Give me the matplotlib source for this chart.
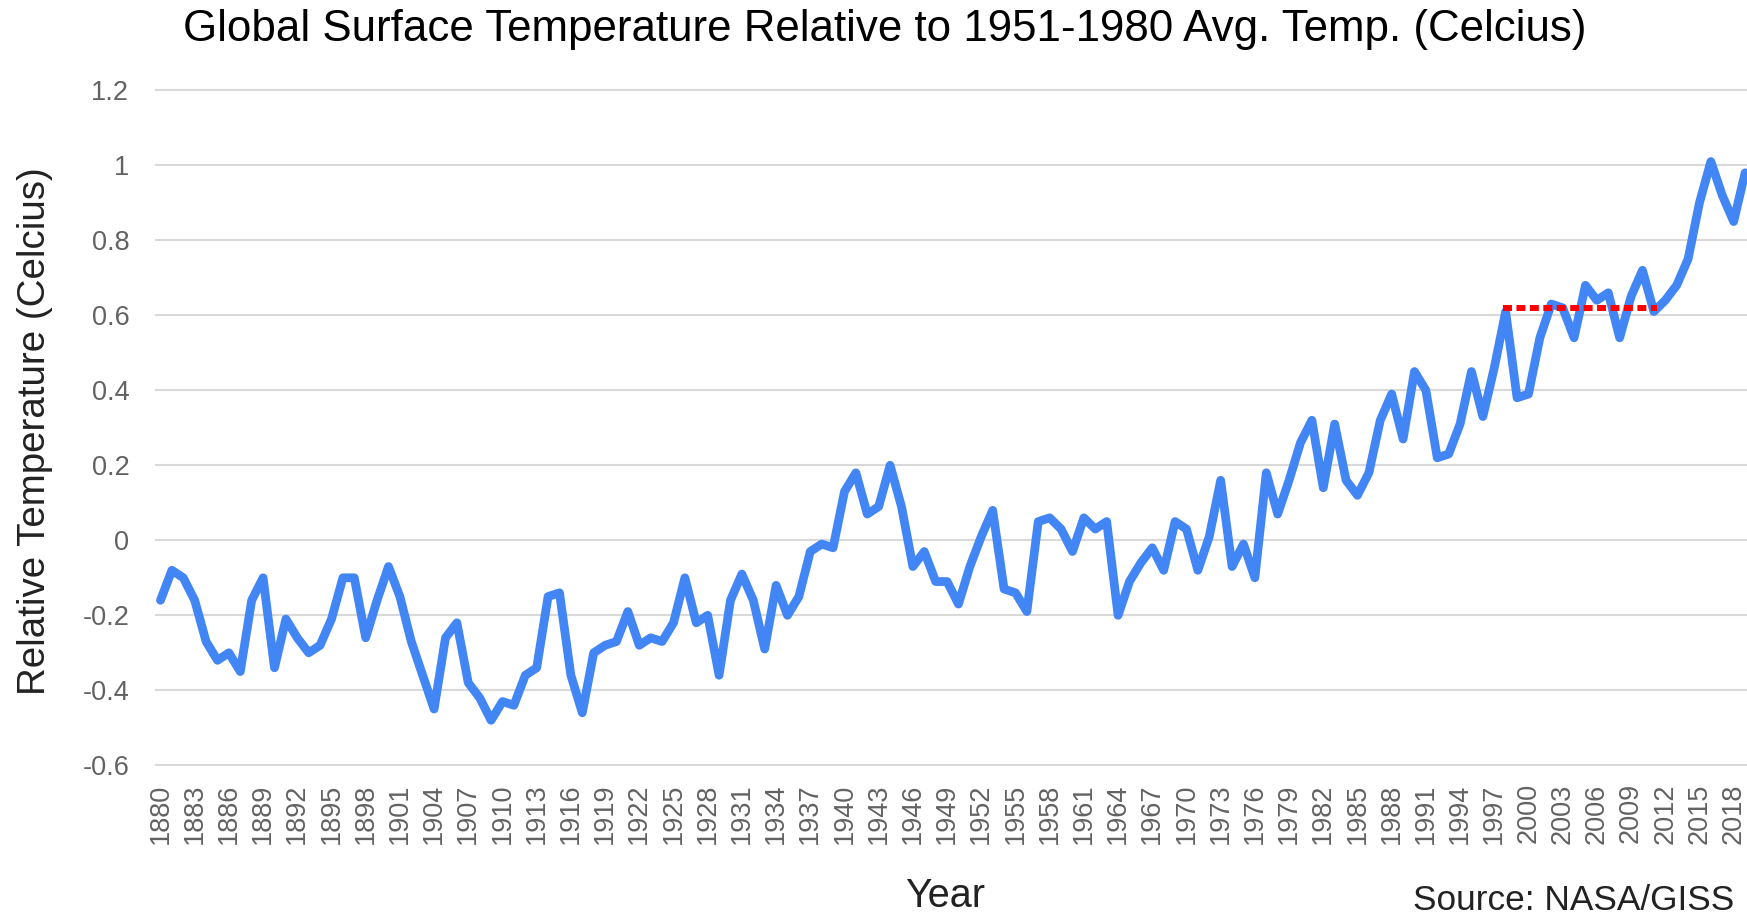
"""Global surface temperature anomaly line chart (NASA/GISS)."""

import matplotlib
matplotlib.use("Agg")
import matplotlib.pyplot as plt

plt.rcParams["font.family"] = ["Liberation Sans", "DejaVu Sans"]

# Annual mean anomaly vs 1951-1980, deg C
years = list(range(1880, 2020))
anomaly = [
    -0.16, -0.08, -0.10, -0.16, -0.27, -0.32, -0.30, -0.35, -0.16, -0.10,
    -0.34, -0.21, -0.26, -0.30, -0.28, -0.21, -0.10, -0.10, -0.26, -0.16,
    -0.07, -0.15, -0.27, -0.36, -0.45, -0.26, -0.22, -0.38, -0.42, -0.48,
    -0.43, -0.44, -0.36, -0.34, -0.15, -0.14, -0.36, -0.46, -0.30, -0.28,
    -0.27, -0.19, -0.28, -0.26, -0.27, -0.22, -0.10, -0.22, -0.20, -0.36,
    -0.16, -0.09, -0.16, -0.29, -0.12, -0.20, -0.15, -0.03, -0.01, -0.02,
    0.13, 0.18, 0.07, 0.09, 0.20, 0.09, -0.07, -0.03, -0.11, -0.11,
    -0.17, -0.07, 0.01, 0.08, -0.13, -0.14, -0.19, 0.05, 0.06, 0.03,
    -0.03, 0.06, 0.03, 0.05, -0.20, -0.11, -0.06, -0.02, -0.08, 0.05,
    0.03, -0.08, 0.01, 0.16, -0.07, -0.01, -0.10, 0.18, 0.07, 0.16,
    0.26, 0.32, 0.14, 0.31, 0.16, 0.12, 0.18, 0.32, 0.39, 0.27,
    0.45, 0.40, 0.22, 0.23, 0.31, 0.45, 0.33, 0.46, 0.61, 0.38,
    0.39, 0.54, 0.63, 0.62, 0.54, 0.68, 0.64, 0.66, 0.54, 0.65,
    0.72, 0.61, 0.64, 0.68, 0.75, 0.90, 1.01, 0.92, 0.85, 0.98,
]

# "hiatus" reference: 1998 peak level carried forward
hiatus_years = [1998, 2011]
hiatus_level = 0.62

y_ticks = [1.2, 1.0, 0.8, 0.6, 0.4, 0.2, 0.0, -0.2, -0.4, -0.6]
x_ticks = years[::3]

W, H = 1747, 914
fig = plt.figure(figsize=(W / 100, H / 100), dpi=100)
ax = fig.add_axes([155.7 / W, 1 - 765.3 / H, 1 - 155.7 / W, (765.3 - 90.3) / H])

for v in y_ticks:
    ax.axhline(v, color="#d9d9d9", lw=1.5, zorder=1, clip_on=False)

ax.plot(years, anomaly, color="#4285f4", lw=6.3, solid_joinstyle="round",
        solid_capstyle="round", zorder=3)
ax.plot(hiatus_years, [hiatus_level] * 2, color="#ff0000", lw=4.3,
        linestyle=(0, (0.5, 1.75)), dash_capstyle="projecting", zorder=4)

ax.set_xlim(1879.58, 2019.17)
ax.set_ylim(-0.6, 1.2)
ax.set_xticks(x_ticks)
ax.set_xticklabels([str(y) for y in x_ticks], rotation=90, va="top", ha="center")
ax.set_yticks(y_ticks)
ax.set_yticklabels([f"{v:g}" for v in y_ticks])
ax.tick_params(axis="both", length=0, labelsize=19.5, labelcolor="#626262")
ax.tick_params(axis="x", pad=13)
ax.tick_params(axis="y", pad=19)
for s in ax.spines.values():
    s.set_visible(False)

fig.text(884.5 / W, 1 - 41 / H,
         "Global Surface Temperature Relative to 1951-1980 Avg. Temp. (Celcius)",
         ha="center", va="baseline", fontsize=31.6, color="#000000")
fig.text(35 / W, 1 - 431 / H, "Relative Temperature (Celcius)", rotation=90,
         ha="center", va="center", fontsize=27.7, color="#222222")
fig.text(945 / W, 1 - 907 / H, "Year", ha="center", va="baseline",
         fontsize=28.5, color="#222222")
fig.text(1413 / W, 1 - 910 / H, "Source: NASA/GISS", ha="left", va="baseline",
         fontsize=25.4, color="#222222")

fig.savefig("out.png", dpi=100)
